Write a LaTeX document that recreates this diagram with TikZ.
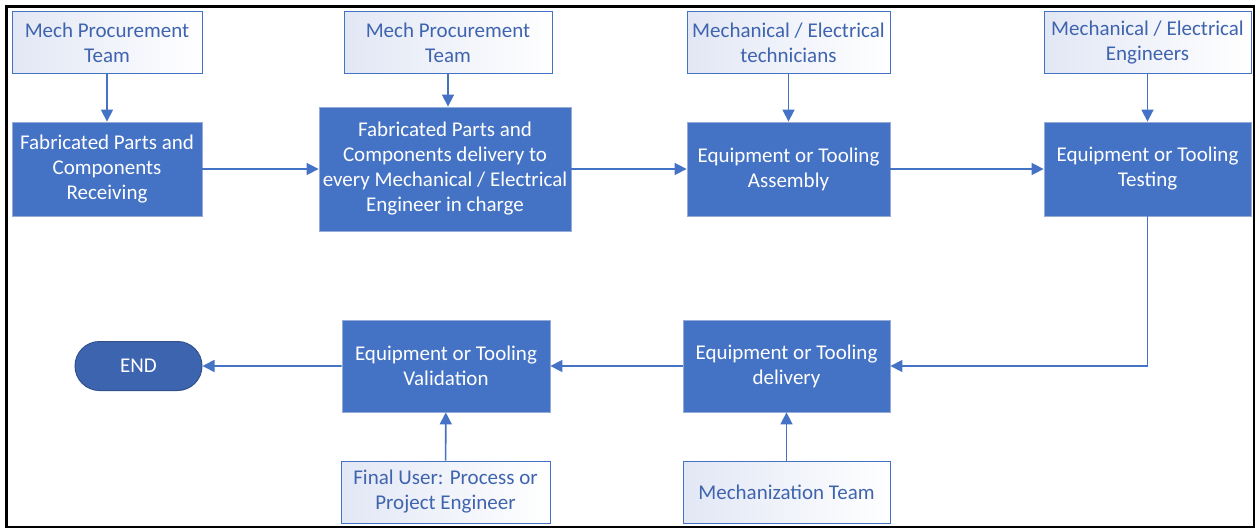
\documentclass[tikz,border=0pt]{standalone}
\usepackage{fontspec}
\setmainfont{Carlito}
\usetikzlibrary{arrows.meta,shapes.misc}
\definecolor{accent}{RGB}{68,114,196}
\definecolor{accentdark}{RGB}{61,101,175}
\definecolor{accentedge}{RGB}{47,82,143}
\definecolor{paleedge}{RGB}{150,172,214}
\definecolor{lavender}{RGB}{226,231,245}
\definecolor{labelblue}{RGB}{63,100,174}
\begin{document}
\begin{tikzpicture}[x=1pt,y=-1pt,
  every node/.style={font=\fontsize{21}{25}\selectfont, align=center, inner sep=0pt},
  rolebox/.style={draw=accent, line width=1pt, left color=lavender, right color=white,
    text=labelblue, minimum height=62pt},
  stepbox/.style={fill=accent, draw=paleedge, line width=0.8pt, text=white},
  endbox/.style={rounded rectangle, fill=accentdark, draw=accentedge, line width=1pt,
    text=white, minimum width=127pt, minimum height=49pt},
  flow/.style={draw=accent, line width=1.6pt, -{Triangle[length=12pt,width=12pt]}}
]
\useasboundingbox (0,0) rectangle (1257,529);
\draw[line width=2.5pt] (6.5,6.5) rectangle (1254,527);

% responsible parties (top row)
\node[rolebox, minimum width=190pt] (r1) at (107,43) {Mech Procurement\\Team};
\node[rolebox, minimum width=208pt] (r2) at (448,43) {Mech Procurement\\Team};
\node[rolebox, minimum width=203pt] (r3) at (788.5,43) {Mechanical / Electrical\\technicians};
\node[rolebox, minimum width=207pt] (r4) at (1147.5,43) {Mechanical / Electrical\\Engineers};

% process steps (upper row)
\node[stepbox, minimum width=190pt, minimum height=94pt] (s1) at (107,169) {Fabricated Parts and\\Components\\Receiving};
\node[stepbox, minimum width=252pt, minimum height=124pt] (s2) at (445,169) {Fabricated Parts and\\Components delivery to\\every Mechanical / Electrical\\Engineer in charge};
\node[stepbox, minimum width=203pt, minimum height=94pt] (s3) at (788.5,169) {Equipment or Tooling\\Assembly};
\node[stepbox, minimum width=207pt, minimum height=94pt] (s4) at (1147.5,169) {Equipment or Tooling\\Testing};

% process steps (lower row)
\node[stepbox, minimum width=207pt, minimum height=92pt] (s5) at (786.5,366) {Equipment or Tooling\\delivery};
\node[stepbox, minimum width=208pt, minimum height=92pt] (s6) at (446,366) {Equipment or Tooling\\Validation};
\node[endbox] (end) at (138.5,366) {END};

% responsible parties (bottom row)
\node[rolebox, minimum width=209pt] (r6) at (445.5,492) {Final User: Process or\\Project Engineer};
\node[rolebox, minimum width=207pt] (r5) at (786.5,492) {Mechanization Team};

% connectors
\draw[flow] (r1) -- (s1);
\draw[flow] (r2.south) -- (r2.south |- s2.north);
\draw[flow] (r3) -- (s3);
\draw[flow] (r4) -- (s4);
\draw[flow] (s1) -- (s2);
\draw[flow] (s2) -- (s3);
\draw[flow] (s3) -- (s4);
\draw[flow] (s4.south) |- (s5.east);
\draw[flow] (s5) -- (s6);
\draw[flow] (s6) -- (end);
\draw[flow] (r5) -- (s5);
\draw[flow] (r6) -- (s6);
\end{tikzpicture}
\end{document}
